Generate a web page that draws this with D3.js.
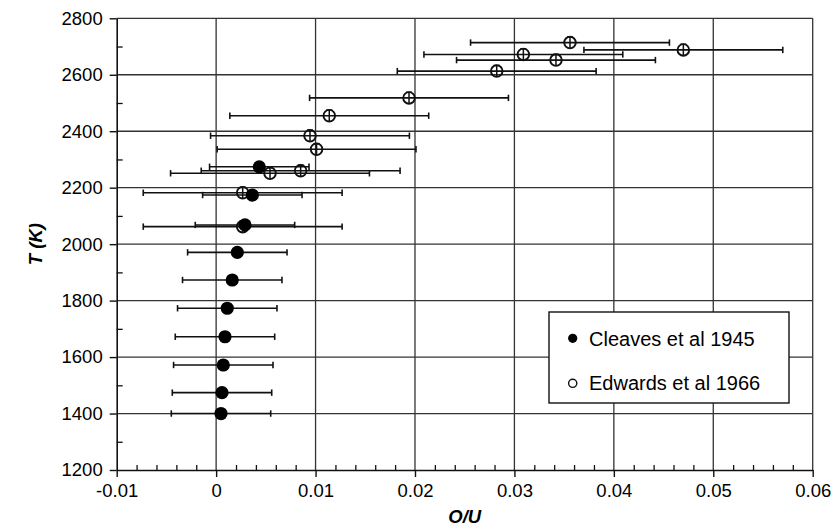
<!DOCTYPE html>
<html>
<head>
<meta charset="utf-8">
<script src="https://cdn.jsdelivr.net/npm/d3@7"></script>
<style>
  html, body { margin: 0; padding: 0; background: #fff; }
  svg { display: block; font-family: "Liberation Sans", Arial, Helvetica, sans-serif; }
</style>
</head>
<body>
<svg id="chart" width="835" height="526"></svg>
<script>
// ---- Data ----
const cleavesT  = [1400, 1474, 1572, 1672, 1773, 1873, 1971, 2068, 2174, 2274];
const cleavesOU = [0.00049, 0.00059, 0.00072, 0.00089, 0.00112, 0.00162, 0.00213, 0.0029, 0.00364, 0.00434];
const cleavesErr = 0.005;

const edwardsT  = [2062, 2182, 2251, 2260, 2336, 2384, 2455, 2518, 2613, 2652, 2672, 2688, 2714];
const edwardsOU = [0.00267, 0.00267, 0.00542, 0.0085, 0.0101, 0.00944, 0.01138, 0.0194, 0.02822, 0.03418, 0.0309, 0.04699, 0.03559];
const edwardsErr = 0.01;
const edwardsTErr = 20;

const xTicks = [-0.01, 0, 0.01, 0.02, 0.03, 0.04, 0.05, 0.06];
const xTickLabels = ["-0.01", "0", "0.01", "0.02", "0.03", "0.04", "0.05", "0.06"];
const yTicks = [1200, 1400, 1600, 1800, 2000, 2200, 2400, 2600, 2800];
const seriesNames = ["Cleaves et al 1945", "Edwards et al 1966"];
const xTitle = "O/U";
const yTitle = "T (K)";

// ---- Layout ----
const svg = d3.select("#chart");
const pLeft = 116.7, pRight = 812.7, pTop = 18.3, pBottom = 470;
const x = d3.scaleLinear().domain([-0.01, 0.06]).range([pLeft, pRight]);
const y = d3.scaleLinear().domain([1200, 2800]).range([pBottom, pTop]);
const ink = "#111";
const fontSize = 18.5;
const legendFont = 20;

// Gridlines
const grid = svg.append("g");
grid.selectAll("line.v").data(xTicks.filter(d => d > -0.01)).enter().append("line")
  .attr("x1", d => x(d)).attr("x2", d => x(d))
  .attr("y1", pTop).attr("y2", pBottom)
  .attr("stroke", "#333").attr("stroke-width", 1.3);
grid.selectAll("line.h").data(yTicks.filter(d => d > 1200)).enter().append("line")
  .attr("x1", pLeft).attr("x2", pRight)
  .attr("y1", d => y(d)).attr("y2", d => y(d))
  .attr("stroke", "#333").attr("stroke-width", 1.3);

// Axes
const xAxis = d3.axisBottom(x).tickValues(xTicks)
  .tickFormat((d, i) => xTickLabels[i]).tickSize(7).tickPadding(7).tickSizeOuter(0);
const gx = svg.append("g").attr("transform", `translate(0,${pBottom})`).call(xAxis);
const yAxis = d3.axisLeft(y).tickValues(yTicks).tickFormat(d3.format("d"))
  .tickSize(7).tickPadding(7).tickSizeOuter(0);
const gy = svg.append("g").attr("transform", `translate(${pLeft},0)`).call(yAxis);
[gx, gy].forEach(g => {
  g.select(".domain").attr("stroke", ink).attr("stroke-width", 1.6);
  g.selectAll(".tick line").attr("stroke", ink).attr("stroke-width", 1.4);
  g.selectAll("text").attr("font-size", fontSize).attr("fill", "#000")
    .attr("font-family", "'Liberation Sans', Arial, sans-serif");
});

// Minor ticks (inside)
const xMinor = d3.range(-0.01, 0.0601, 0.002).filter(v => Math.abs(Math.round(v * 100) - v * 100) > 1e-6);
svg.append("g").attr("transform", `translate(0,${pBottom})`)
  .call(d3.axisTop(x).tickValues(xMinor).tickSize(5).tickFormat(""))
  .call(g => { g.select(".domain").remove(); g.selectAll(".tick line").attr("stroke", ink).attr("stroke-width", 1.3); });
const yMinor = d3.range(1300, 2800, 200);
svg.append("g").attr("transform", `translate(${pLeft},0)`)
  .call(d3.axisRight(y).tickValues(yMinor).tickSize(6).tickFormat(""))
  .call(g => { g.select(".domain").remove(); g.selectAll(".tick line").attr("stroke", ink).attr("stroke-width", 1.3); });

// Error bars helper
function drawErrBars(g, ous, ts, err) {
  const data = ous.map((v, i) => ({ v, t: ts[i] }));
  g.selectAll("line.eb").data(data).enter().append("line")
    .attr("x1", d => x(d.v - err)).attr("x2", d => x(d.v + err))
    .attr("y1", d => y(d.t)).attr("y2", d => y(d.t))
    .attr("stroke", ink).attr("stroke-width", 1.6);
  g.selectAll("line.capL").data(data).enter().append("line")
    .attr("x1", d => x(d.v - err)).attr("x2", d => x(d.v - err))
    .attr("y1", d => y(d.t) - 3.2).attr("y2", d => y(d.t) + 3.2)
    .attr("stroke", ink).attr("stroke-width", 1.6);
  g.selectAll("line.capR").data(data).enter().append("line")
    .attr("x1", d => x(d.v + err)).attr("x2", d => x(d.v + err))
    .attr("y1", d => y(d.t) - 3.2).attr("y2", d => y(d.t) + 3.2)
    .attr("stroke", ink).attr("stroke-width", 1.6);
  return data;
}

// Edwards (open)
const gE = svg.append("g");
const eData = drawErrBars(gE, edwardsOU, edwardsT, edwardsErr);
gE.selectAll("line.vy").data(eData).enter().append("line")
  .attr("x1", d => x(d.v)).attr("x2", d => x(d.v))
  .attr("y1", d => y(d.t + edwardsTErr)).attr("y2", d => y(d.t - edwardsTErr))
  .attr("stroke", ink).attr("stroke-width", 1.5);
gE.selectAll("line.vcap").data(eData).enter().append("line")
  .attr("x1", d => x(d.v) - 3).attr("x2", d => x(d.v) + 3)
  .attr("y1", d => y(d.t + edwardsTErr)).attr("y2", d => y(d.t + edwardsTErr))
  .attr("stroke", ink).attr("stroke-width", 1.5);
gE.selectAll("circle").data(eData).enter().append("circle")
  .attr("cx", d => x(d.v)).attr("cy", d => y(d.t)).attr("r", 5.8)
  .attr("fill", "none").attr("stroke", ink).attr("stroke-width", 1.9);

// Cleaves (filled)
const gC = svg.append("g");
const cData = drawErrBars(gC, cleavesOU, cleavesT, cleavesErr);
gC.selectAll("circle").data(cData).enter().append("circle")
  .attr("cx", d => x(d.v)).attr("cy", d => y(d.t)).attr("r", 6.6)
  .attr("fill", "#000");

// Legend
const lg = svg.append("g");
lg.append("rect").attr("x", 549).attr("y", 312).attr("width", 240).attr("height", 91)
  .attr("fill", "#fff").attr("stroke", ink).attr("stroke-width", 1.4);
lg.append("circle").attr("cx", 572.7).attr("cy", 338.3).attr("r", 4.6).attr("fill", "#000");
lg.append("circle").attr("cx", 572.7).attr("cy", 383.3).attr("r", 4.1)
  .attr("fill", "#fff").attr("stroke", ink).attr("stroke-width", 1.4);
lg.selectAll("text").data(seriesNames).enter().append("text")
  .attr("x", 589).attr("y", (d, i) => i === 0 ? 345.5 : 390)
  .attr("font-size", legendFont).attr("fill", "#000").text(d => d);

// Titles
svg.append("text").attr("x", (pLeft + pRight) / 2).attr("y", 523)
  .attr("text-anchor", "middle").attr("font-size", fontSize)
  .attr("font-weight", "bold").attr("font-style", "italic").text(xTitle);
svg.append("text").attr("transform", `translate(42,${(pTop + pBottom) / 2}) rotate(-90)`)
  .attr("text-anchor", "middle").attr("font-size", fontSize)
  .attr("font-weight", "bold").attr("font-style", "italic").text(yTitle);
</script>
</body>
</html>
